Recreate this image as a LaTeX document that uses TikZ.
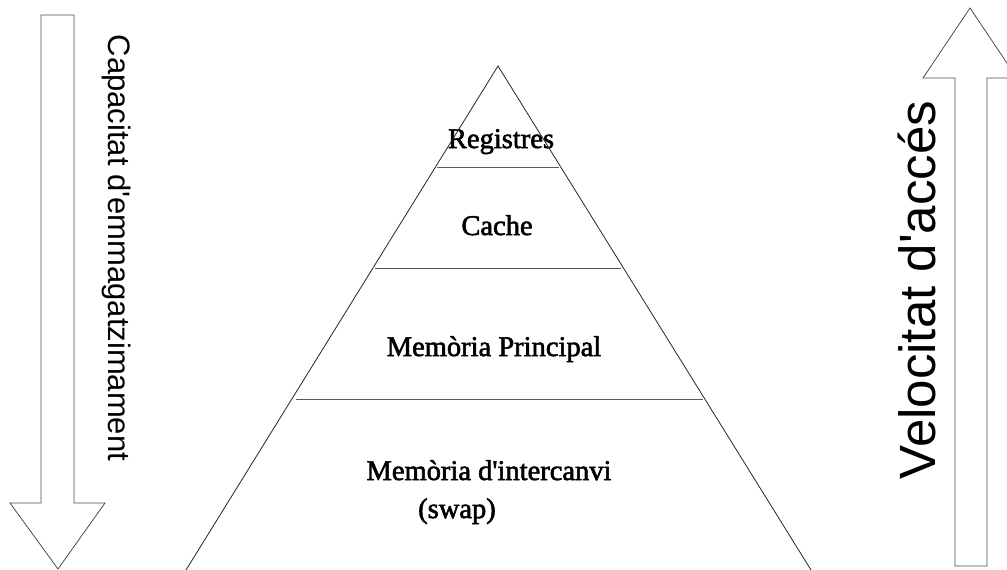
\documentclass[tikz,border=0pt]{standalone}
\usepackage{fontspec}
\setmainfont{Liberation Serif}[Ligatures=TeXOff, FakeBold=2]
\setsansfont{Liberation Sans}[Ligatures=TeXOff]

\begin{document}
\begin{tikzpicture}[
  x=1pt, y=-1pt,
  tier/.style   = {font=\fontsize{28.5}{34}\selectfont, inner sep=0pt, anchor=base},
  axis/.style   = {font=\sffamily\fontsize{31}{36}\selectfont, inner sep=0pt, anchor=base},
  edge/.style   = {draw=black!85, line width=0.8pt},
  sep/.style    = {draw=black!65, line width=0.8pt},
  bigarr/.style = {draw=black!70, line width=0.8pt, line join=miter}
]
\useasboundingbox (0,0) rectangle (1007,570);

%% ── PYRAMID CORNERS ─────────────────────────────────────────────
\coordinate (apex) at (498,66);
\coordinate (bl)   at (186,570);
\coordinate (br)   at (811,570);

%% ── TIER LABELS ─────────────────────────────────────────────────
\node[tier] at (501,148) (regs)    {Registres};
\node[tier] at (497,235) (cache)   {Cache};
\node[tier] at (494,356) (mainmem) {Memòria Principal};
\node[tier] at (489,480) (swapmem) {Memòria d'intercanvi};
\node[tier] at (457,518) (swaptag) {(swap)};

%% ── SIDE LABELS ─────────────────────────────────────────────────
\node[axis, rotate=-90] at (108,248) (capac) {Capacitat d'emmagatzimament};
\node[axis, rotate=90, font=\sffamily\fontsize{51}{60}\selectfont]
      at (935,290) (veloc) {Velocitat d'accés};

%% ── PYRAMID ─────────────────────────────────────────────────────
\draw[edge] (bl) -- (apex) -- (br);
\draw[sep] (437,167) -- (559,167);
\draw[sep] (375,268) -- (621,268);
\draw[sep] (296,399) -- (703,399);

%% ── BIG ARROWS ──────────────────────────────────────────────────
\draw[bigarr] (41,15) -- (74,15) -- (74,503) -- (105,503) -- (58,569)
              -- (10,503) -- (41,503) -- cycle;
\draw[bigarr] (955,566) -- (987,566) -- (987,78) -- (1017,78) -- (970,8)
              -- (923,78) -- (955,78) -- cycle;

\end{tikzpicture}
\end{document}
